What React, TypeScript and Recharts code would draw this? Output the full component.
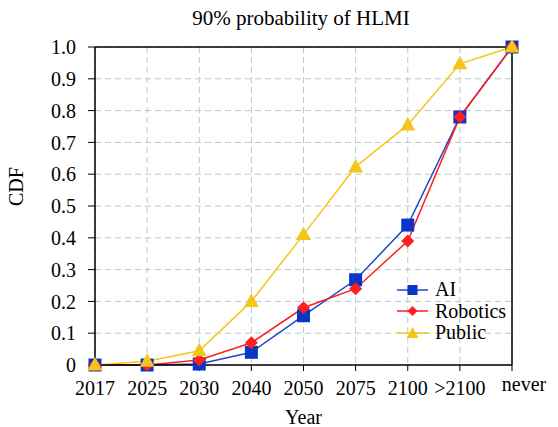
import React from "react";
import { LineChart, Line, XAxis, YAxis, CartesianGrid, ReferenceLine } from "recharts";

const categories = ["2017", "2025", "2030", "2040", "2050", "2075", "2100", ">2100", "never"];
const aiValues = [0, 0, 0.003, 0.04, 0.155, 0.268, 0.44, 0.78, 1.0];
const roboticsValues = [0, 0, 0.016, 0.07, 0.18, 0.24, 0.39, 0.78, 1.0];
const publicValues = [0, 0.012, 0.045, 0.2, 0.41, 0.623, 0.755, 0.947, 1.0];
const yTicks = [0, 0.1, 0.2, 0.3, 0.4, 0.5, 0.6, 0.7, 0.8, 0.9, 1.0];

const data = categories.map((c, i) => ({
  year: c,
  AI: aiValues[i],
  Robotics: roboticsValues[i],
  Public: publicValues[i],
}));

const FONT = "'Liberation Serif', 'Times New Roman', serif";
const BLUE = "#0b35c4";
const BLUE_LINE = "#2446c8";
const RED = "#ff1f1f";
const YELLOW = "#f5c51c";

const Square = (props: any) => {
  const { cx, cy } = props;
  if (cx == null || cy == null) return null;
  return <rect x={cx - 6.5} y={cy - 6.5} width={13} height={13} fill={BLUE} />;
};
const Diamond = (props: any) => {
  const { cx, cy } = props;
  if (cx == null || cy == null) return null;
  const r = 6.5;
  return <polygon points={`${cx},${cy - r} ${cx + r},${cy} ${cx},${cy + r} ${cx - r},${cy}`} fill={RED} />;
};
const Triangle = (props: any) => {
  const { cx, cy } = props;
  if (cx == null || cy == null) return null;
  return <polygon points={`${cx},${cy - 8} ${cx + 7.5},${cy + 5.5} ${cx - 7.5},${cy + 5.5}`} fill={YELLOW} />;
};

const XTick = (props: any) => {
  const { x, y, payload } = props;
  const isNever = payload.value === "never";
  return (
    <text
      x={x + (isNever ? 12 : 0)}
      y={y - (isNever ? 4 : 0)}
      dy="0.71em"
      textAnchor="middle"
      fontFamily={FONT}
      fontSize={20}
      fill="#000"
    >
      {payload.value}
    </text>
  );
};

const legendItems = [
  { name: "AI", color: BLUE_LINE, shape: "square" },
  { name: "Robotics", color: RED, shape: "diamond" },
  { name: "Public", color: YELLOW, shape: "triangle" },
];

const LegendContent = () => (
  <div style={{ fontFamily: FONT, fontSize: 20, color: "#000", lineHeight: "21.5px" }}>
    {legendItems.map((it) => (
      <div key={it.name} style={{ display: "flex", alignItems: "center", height: 21.5 }}>
        <svg width={32} height={16} style={{ marginRight: 6 }}>
          <line x1={0} y1={8} x2={31} y2={8} stroke={it.color} strokeWidth={1.5} />
          {it.shape === "square" && <rect x={10.5} y={3} width={10} height={10} fill={BLUE} />}
          {it.shape === "diamond" && <polygon points="15.5,3 20.5,8 15.5,13 10.5,8" fill={RED} />}
          {it.shape === "triangle" && <polygon points="15.5,2 21.5,13 9.5,13" fill={YELLOW} />}
        </svg>
        <span>{it.name}</span>
      </div>
    ))}
  </div>
);

export default function App() {
  return (
    <div style={{ position: "absolute", left: 0, top: 0, width: 558, height: 427, background: "#fff", overflow: "hidden" }}>
      <div
        style={{
          position: "absolute",
          left: 0,
          width: 602,
          top: 6,
          textAlign: "center",
          fontFamily: FONT,
          fontSize: 21,
          color: "#000",
        }}
      >
        90% probability of HLMI
      </div>
      <LineChart
        width={558}
        height={427}
        data={data}
        margin={{ top: 47, right: 46, bottom: 0, left: 0 }}
      >
        <CartesianGrid stroke="#b9c9cc" strokeDasharray="6 4" />
        <XAxis
          dataKey="year"
          height={62}
          tickSize={6}
          tickMargin={10}
          tick={<XTick />}
          tickLine={{ stroke: "#000" }}
          axisLine={{ stroke: "#000", strokeWidth: 1.5 }}
          interval={0}
          padding={{ left: 0, right: 0 }}
          label={{ value: "Year", position: "insideBottom", offset: 3, fontFamily: FONT, fontSize: 20, fill: "#000" }}
        />
        <YAxis
          width={95}
          domain={[0, 1]}
          ticks={yTicks}
          tickSize={7}
          tickMargin={12}
          interval={0}
          tickFormatter={(v: number) => (v === 0 ? "0" : v.toFixed(1))}
          tick={{ fontFamily: FONT, fontSize: 20, fill: "#000" }}
          tickLine={{ stroke: "#000" }}
          axisLine={{ stroke: "#000", strokeWidth: 1.5 }}
          label={{ value: "CDF", angle: -90, position: "insideLeft", offset: 16, fontFamily: FONT, fontSize: 20, fill: "#000" }}
        />
        <ReferenceLine y={1} stroke="#000" strokeWidth={1.5} />
        <ReferenceLine x="never" stroke="#000" strokeWidth={1.5} />
        <Line dataKey="AI" stroke={BLUE_LINE} strokeWidth={1.5} dot={<Square />} activeDot={false} isAnimationActive={false} />
        <Line dataKey="Robotics" stroke={RED} strokeWidth={1.5} dot={<Diamond />} activeDot={false} isAnimationActive={false} />
        <Line dataKey="Public" stroke={YELLOW} strokeWidth={1.5} dot={<Triangle />} activeDot={false} isAnimationActive={false} />
      </LineChart>
      <div style={{ position: "absolute", left: 397, top: 279 }}>
        <LegendContent />
      </div>
    </div>
  );
}
